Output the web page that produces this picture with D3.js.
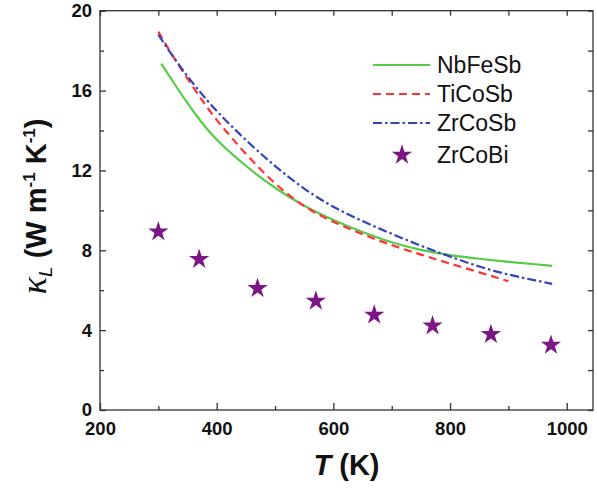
<!DOCTYPE html>
<html lang="en">
<head>
    <meta charset="UTF-8">
    <title>kappa_L vs T</title>
    <script src="https://cdn.jsdelivr.net/npm/d3@7"></script>
    <style>
        body { margin: 0; background: white; }
        text { font-family: "Liberation Sans", Arial, sans-serif; }
        .axis path, .axis line { stroke: #333; stroke-width: 1.3; }
        .axis text { font-size: 18.5px; font-weight: bold; fill: #111; }
    </style>
</head>
<body>
<script>
    const width = 597, height = 488;

    // temperatures (K) and lattice thermal conductivity (W m-1 K-1)
    const nbT   = [305, 325, 350, 375, 400, 450, 500, 550, 600, 650, 700, 750, 800, 850, 900, 950, 975];
    const nbK   = [17.35, 16.45, 15.35, 14.35, 13.5, 12.2, 11.1, 10.2, 9.5, 8.9, 8.38, 8.0, 7.75, 7.57, 7.42, 7.29, 7.22];

    const tiT   = [300, 325, 350, 375, 400, 450, 500, 550, 600, 650, 700, 750, 800, 850, 900];
    const tiK   = [18.95, 17.7, 16.6, 15.5, 14.5, 12.8, 11.3, 10.15, 9.4, 8.8, 8.25, 7.78, 7.33, 6.9, 6.45];

    const zrSbT = [300, 325, 350, 375, 400, 450, 500, 550, 600, 650, 700, 750, 800, 850, 900, 950, 975];
    const zrSbK = [18.8, 17.7, 16.7, 15.8, 14.95, 13.5, 12.2, 11.05, 10.15, 9.45, 8.82, 8.22, 7.68, 7.17, 6.77, 6.47, 6.32];

    const zrBiT = [300, 370, 470, 570, 670, 770, 870, 973];
    const zrBiK = [8.93, 7.55, 6.09, 5.46, 4.76, 4.22, 3.79, 3.25];

    const xMajor = [200, 400, 600, 800, 1000];
    const xMinor = [300, 500, 700, 900];
    const yMajor = [0, 4, 8, 12, 16, 20];
    const yMinor = [2, 6, 10, 14, 18];

    const series = [
        {name: "NbFeSb", T: nbT,   k: nbK,   color: "#55cc44", dash: null},
        {name: "TiCoSb", T: tiT,   k: tiK,   color: "#ff3333", dash: "8,5"},
        {name: "ZrCoSb", T: zrSbT, k: zrSbK, color: "#3344bb", dash: "9,3,2.5,3"}
    ];

    const mLeft = 100, mRight = 593, mTop = 10.7, mBottom = 410;

    const x = d3.scaleLinear().domain([200, 1045]).range([mLeft, mRight]);
    const y = d3.scaleLinear().domain([0, 20]).range([mBottom, mTop]);

    const svg = d3.select("body")
                  .append("svg")
                  .attr("width", width)
                  .attr("height", height);

    // frame
    svg.append("rect")
       .attr("x", mLeft).attr("y", mTop)
       .attr("width", mRight - mLeft).attr("height", mBottom - mTop)
       .attr("fill", "none").attr("stroke", "#333").attr("stroke-width", 1.3);

    // ticks, all inward
    svg.append("g").attr("class", "axis")
       .attr("transform", `translate(0,${mBottom})`)
       .call(d3.axisBottom(x).tickValues(xMajor).tickFormat(d3.format("d"))
               .tickSizeInner(-7).tickSizeOuter(0).tickPadding(12));
    svg.append("g").attr("class", "axis")
       .attr("transform", `translate(0,${mBottom})`)
       .call(d3.axisBottom(x).tickValues(xMinor).tickSizeInner(-4).tickSizeOuter(0).tickFormat(""));
    svg.append("g").attr("class", "axis")
       .attr("transform", `translate(0,${mTop})`)
       .call(d3.axisTop(x).tickValues(xMajor.concat(xMinor)).tickSizeInner(-5).tickSizeOuter(0).tickFormat(""));

    svg.append("g").attr("class", "axis")
       .attr("transform", `translate(${mLeft},0)`)
       .call(d3.axisLeft(y).tickValues(yMajor).tickSizeInner(-6).tickSizeOuter(0).tickPadding(8));
    svg.append("g").attr("class", "axis")
       .attr("transform", `translate(${mLeft},0)`)
       .call(d3.axisLeft(y).tickValues(yMinor).tickSizeInner(-4).tickSizeOuter(0).tickFormat(""));
    svg.append("g").attr("class", "axis")
       .attr("transform", `translate(${mRight},0)`)
       .call(d3.axisRight(y).tickValues(yMajor.concat(yMinor)).tickSizeInner(-5).tickSizeOuter(0).tickFormat(""));

    svg.selectAll(".axis .domain").remove();

    // curves
    const line = d3.line()
                   .x(d => x(d[0]))
                   .y(d => y(d[1]))
                   .curve(d3.curveBasis);

    svg.selectAll("path.curve")
       .data(series)
       .join("path").attr("class", "curve")
       .attr("d", s => line(s.T.map((t, i) => [t, s.k[i]])))
       .attr("fill", "none")
       .attr("stroke", s => s.color)
       .attr("stroke-width", 2.2)
       .attr("stroke-dasharray", s => s.dash);

    // stars
    const star = d3.symbol().type(d3.symbolStar).size(128);
    svg.selectAll("path.star")
       .data(zrBiT.map((t, i) => [t, zrBiK[i]]))
       .join("path").attr("class", "star")
       .attr("d", star)
       .attr("transform", d => `translate(${x(d[0])},${y(d[1])})`)
       .attr("fill", "#7d1686");

    // legend
    const legend = svg.append("g").attr("transform", "translate(373,65)");
    series.forEach((s, i) => {
        const g = legend.append("g").attr("transform", `translate(0,${i * 29})`);
        g.append("line")
         .attr("x1", 0).attr("x2", 57)
         .attr("stroke", s.color).attr("stroke-width", 2.2)
         .attr("stroke-dasharray", s.dash);
        g.append("text")
         .attr("x", 64).attr("dy", "0.35em")
         .style("font-size", "23px").attr("fill", "#111")
         .text(s.name);
    });
    const gStar = legend.append("g").attr("transform", "translate(0,90)");
    gStar.append("path").attr("d", star)
         .attr("transform", "translate(29,0)")
         .attr("fill", "#7d1686");
    gStar.append("text")
         .attr("x", 64).attr("dy", "0.35em")
         .style("font-size", "23px").attr("fill", "#111")
         .text("ZrCoBi");

    // axis titles
    const xt = svg.append("text")
       .attr("x", (mLeft + mRight) / 2).attr("y", 475)
       .attr("text-anchor", "middle")
       .style("font-size", "29px").style("font-weight", "bold").attr("fill", "#111");
    xt.append("tspan").style("font-style", "italic").text("T");
    xt.append("tspan").text(" (K)");

    const yt = svg.append("text")
       .attr("transform", `translate(46,${(mTop + mBottom) / 2 - 4}) rotate(-90)`)
       .attr("text-anchor", "middle")
       .style("font-size", "29px").style("font-weight", "bold").attr("fill", "#111");
    yt.append("tspan").style("font-style", "italic").style("font-weight", "normal")
      .style("font-family", "'Liberation Serif', 'DejaVu Serif', serif")
      .style("font-size", "36px").text("κ");
    yt.append("tspan").style("font-style", "italic").style("font-weight", "normal")
      .style("font-size", "19px").attr("dy", 6).text("L");
    yt.append("tspan").attr("dy", -6).text(" (W m");
    yt.append("tspan").style("font-size", "17px").attr("dy", -11).text("-1");
    yt.append("tspan").attr("dy", 11).text(" K");
    yt.append("tspan").style("font-size", "17px").attr("dy", -11).text("-1");
    yt.append("tspan").attr("dy", 11).text(")");
</script>
</body>
</html>
